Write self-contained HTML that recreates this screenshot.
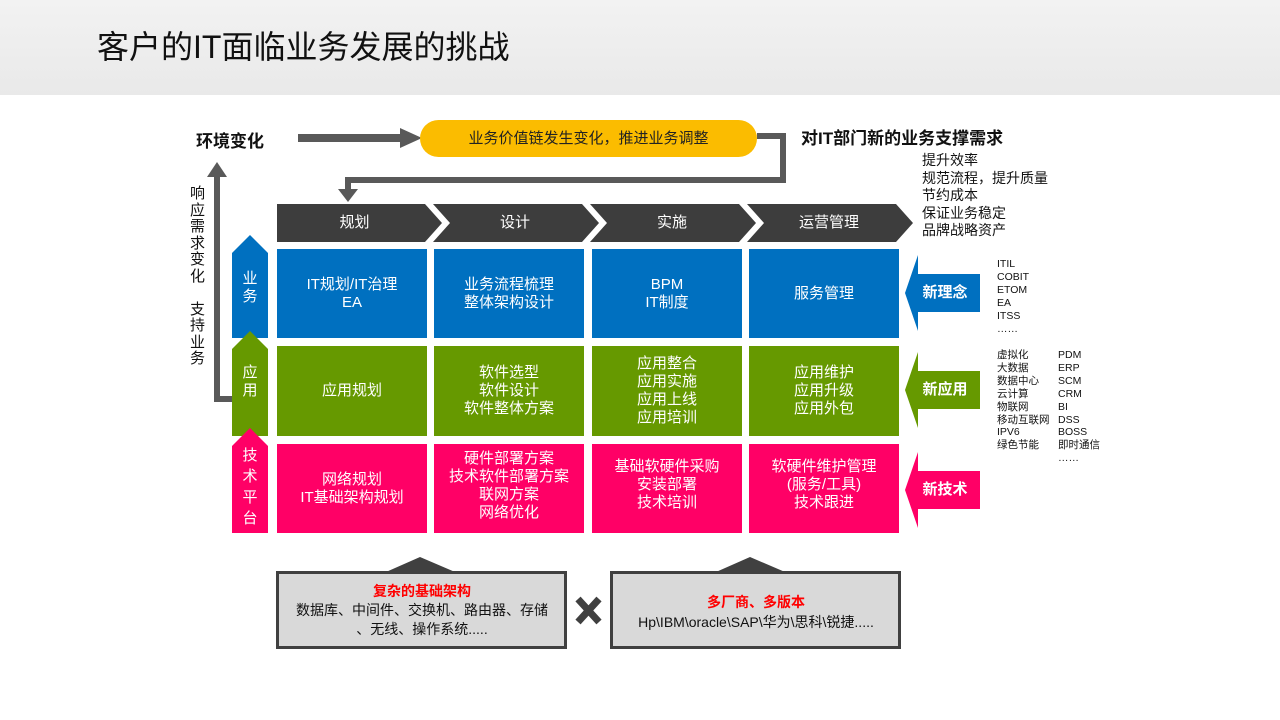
<!DOCTYPE html>
<html><head><meta charset="utf-8"><style>
body{margin:0;width:1280px;height:720px;position:relative;background:#fff;font-family:"Liberation Sans","Noto Sans CJK SC",sans-serif;overflow:hidden}
.a{position:absolute}
.t{position:absolute;display:flex;align-items:center;justify-content:center;text-align:center;color:#fff;line-height:1.2}
</style></head><body>
<div class="a" style="left:0;top:0;width:1280px;height:95px;background:linear-gradient(#f2f2f2,#e9e9e9)"></div>
<div class="a" style="left:97px;top:27px;font-size:32px;color:#111;line-height:40px">客户的IT面临业务发展的挑战</div>

<svg class="a" style="left:0;top:0" width="1280" height="720">
<rect x="298" y="134" width="104" height="8" fill="#595959"/>
<polygon points="400,128 422,138 400,148" fill="#595959"/>
<rect x="420" y="120" width="337" height="37" rx="18.5" fill="#fbbc00"/>
<polyline points="757,136 783,136 783,180 348,180 348,192" fill="none" stroke="#595959" stroke-width="6"/>
<polygon points="338,189 358,189 348,202" fill="#595959"/>
<polyline points="256,399 217,399 217,175" fill="none" stroke="#595959" stroke-width="6"/>
<polygon points="207,177 227,177 217,162" fill="#595959"/>
<g fill="#3d3d3d">
<polygon points="277,204 425,204 442,223 425,242 277,242"/>
<polygon points="433,204 582,204 599,223 582,242 433,242 450,223"/>
<polygon points="590,204 739,204 756,223 739,242 590,242 607,223"/>
<polygon points="747,204 896,204 913,223 896,242 747,242 764,223"/>
</g>
<polygon points="232,253 250,235 268,253 268,338 232,338" fill="#0070c0"/>
<polygon points="232,349 250,331 268,349 268,436 232,436" fill="#669900"/>
<polygon points="232,446 250,428 268,446 268,533 232,533" fill="#ff0066"/>
<polygon points="905,293 918,255 918,274 980,274 980,312 918,312 918,331" fill="#0070c0"/>
<polygon points="905,390 918,352 918,371 980,371 980,409 918,409 918,428" fill="#669900"/>
<polygon points="905,490 918,452 918,471 980,471 980,509 918,509 918,528" fill="#ff0066"/>
<polygon points="386,572 420,557 455,572" fill="#404040"/>
<polygon points="716,572 750,557 785,572" fill="#404040"/>
<rect x="277.5" y="572.5" width="288" height="75" fill="#d9d9d9" stroke="#404040" stroke-width="3"/>
<rect x="611.5" y="572.5" width="288" height="75" fill="#d9d9d9" stroke="#404040" stroke-width="3"/>
<g stroke="#404040" stroke-width="7"><line x1="578" y1="599" x2="599" y2="622"/><line x1="599" y1="599" x2="578" y2="622"/></g>
</svg>

<div class="a" style="left:196px;top:127px;font-size:17px;font-weight:bold;color:#111">环境变化</div>
<div class="t" style="left:420px;top:120px;width:337px;height:37px;color:#222;font-size:15px">业务价值链发生变化，推进业务调整</div>
<div class="a" style="left:801px;top:124px;font-size:17px;font-weight:bold;color:#111">对IT部门新的业务支撑需求</div>
<div class="a" style="left:922px;top:152px;font-size:14px;line-height:17.5px;color:#111">提升效率<br>规范流程，提升质量<br>节约成本<br>保证业务稳定<br>品牌战略资产</div>
<div class="a" style="left:190px;top:186px;width:16px;font-size:15px;line-height:16.5px;color:#111">响应需求变化<br><br>支持业务</div>

<div class="t" style="left:277px;top:204px;width:155px;height:38px;font-size:15px">规划</div>
<div class="t" style="left:440px;top:204px;width:150px;height:38px;font-size:15px">设计</div>
<div class="t" style="left:597px;top:204px;width:150px;height:38px;font-size:15px">实施</div>
<div class="t" style="left:754px;top:204px;width:150px;height:38px;font-size:15px">运营管理</div>

<div class="t" style="left:232px;top:258px;width:36px;height:60px;font-size:15px">业<br>务</div>
<div class="t" style="left:232px;top:352px;width:36px;height:60px;font-size:15px">应<br>用</div>
<div class="t" style="left:232px;top:442px;width:36px;height:90px;font-size:15px;line-height:21px">技<br>术<br>平<br>台</div>

<div class="t" style="left:277px;top:249px;width:150px;height:89px;background:#0070c0;font-size:15px">IT规划/IT治理<br>EA</div>
<div class="t" style="left:434px;top:249px;width:150px;height:89px;background:#0070c0;font-size:15px">业务流程梳理<br>整体架构设计</div>
<div class="t" style="left:592px;top:249px;width:150px;height:89px;background:#0070c0;font-size:15px">BPM<br>IT制度</div>
<div class="t" style="left:749px;top:249px;width:150px;height:89px;background:#0070c0;font-size:15px">服务管理</div>

<div class="t" style="left:277px;top:346px;width:150px;height:90px;background:#669900;font-size:15px">应用规划</div>
<div class="t" style="left:434px;top:346px;width:150px;height:90px;background:#669900;font-size:15px">软件选型<br>软件设计<br>软件整体方案</div>
<div class="t" style="left:592px;top:346px;width:150px;height:90px;background:#669900;font-size:15px">应用整合<br>应用实施<br>应用上线<br>应用培训</div>
<div class="t" style="left:749px;top:346px;width:150px;height:90px;background:#669900;font-size:15px">应用维护<br>应用升级<br>应用外包</div>

<div class="t" style="left:277px;top:444px;width:150px;height:89px;background:#ff0066;font-size:15px">网络规划<br>IT基础架构规划</div>
<div class="t" style="left:434px;top:444px;width:150px;height:89px;background:#ff0066;font-size:15px;align-items:flex-start;padding-top:6px;box-sizing:border-box">硬件部署方案<br>技术软件部署方案<br>联网方案<br>网络优化</div>
<div class="t" style="left:592px;top:444px;width:150px;height:89px;background:#ff0066;font-size:15px;align-items:flex-start;padding-top:14px;box-sizing:border-box">基础软硬件采购<br>安装部署<br>技术培训</div>
<div class="t" style="left:749px;top:444px;width:150px;height:89px;background:#ff0066;font-size:15px;align-items:flex-start;padding-top:14px;box-sizing:border-box">软硬件维护管理<br>(服务/工具)<br>技术跟进</div>

<div class="t" style="left:915px;top:274px;width:60px;height:38px;font-size:15px;font-weight:bold">新理念</div>
<div class="t" style="left:915px;top:371px;width:60px;height:38px;font-size:15px;font-weight:bold">新应用</div>
<div class="t" style="left:915px;top:471px;width:60px;height:38px;font-size:15px;font-weight:bold">新技术</div>

<div class="a" style="left:997px;top:258px;font-size:10.5px;line-height:13px;color:#111">ITIL<br>COBIT<br>ETOM<br>EA<br>ITSS<br>……</div>
<div class="a" style="left:997px;top:349px;font-size:10.5px;line-height:12.9px;color:#111">虚拟化<br>大数据<br>数据中心<br>云计算<br>物联网<br>移动互联网<br>IPV6<br>绿色节能</div>
<div class="a" style="left:1058px;top:349px;font-size:10.5px;line-height:12.9px;color:#111">PDM<br>ERP<br>SCM<br>CRM<br>BI<br>DSS<br>BOSS<br>即时通信<br>……</div>

<div class="t" style="left:279px;top:578px;width:286px;height:64px;color:#111;font-size:14px;line-height:19px;flex-direction:column"><b style="color:#ff0000">复杂的基础架构</b><span>数据库、中间件、交换机、路由器、存储<br>、无线、操作系统.....</span></div>
<div class="t" style="left:613px;top:582px;width:286px;height:60px;color:#111;font-size:14px;line-height:20px;flex-direction:column"><b style="color:#ff0000">多厂商、多版本</b><span>Hp\IBM\oracle\SAP\华为\思科\锐捷.....</span></div>
</body></html>
